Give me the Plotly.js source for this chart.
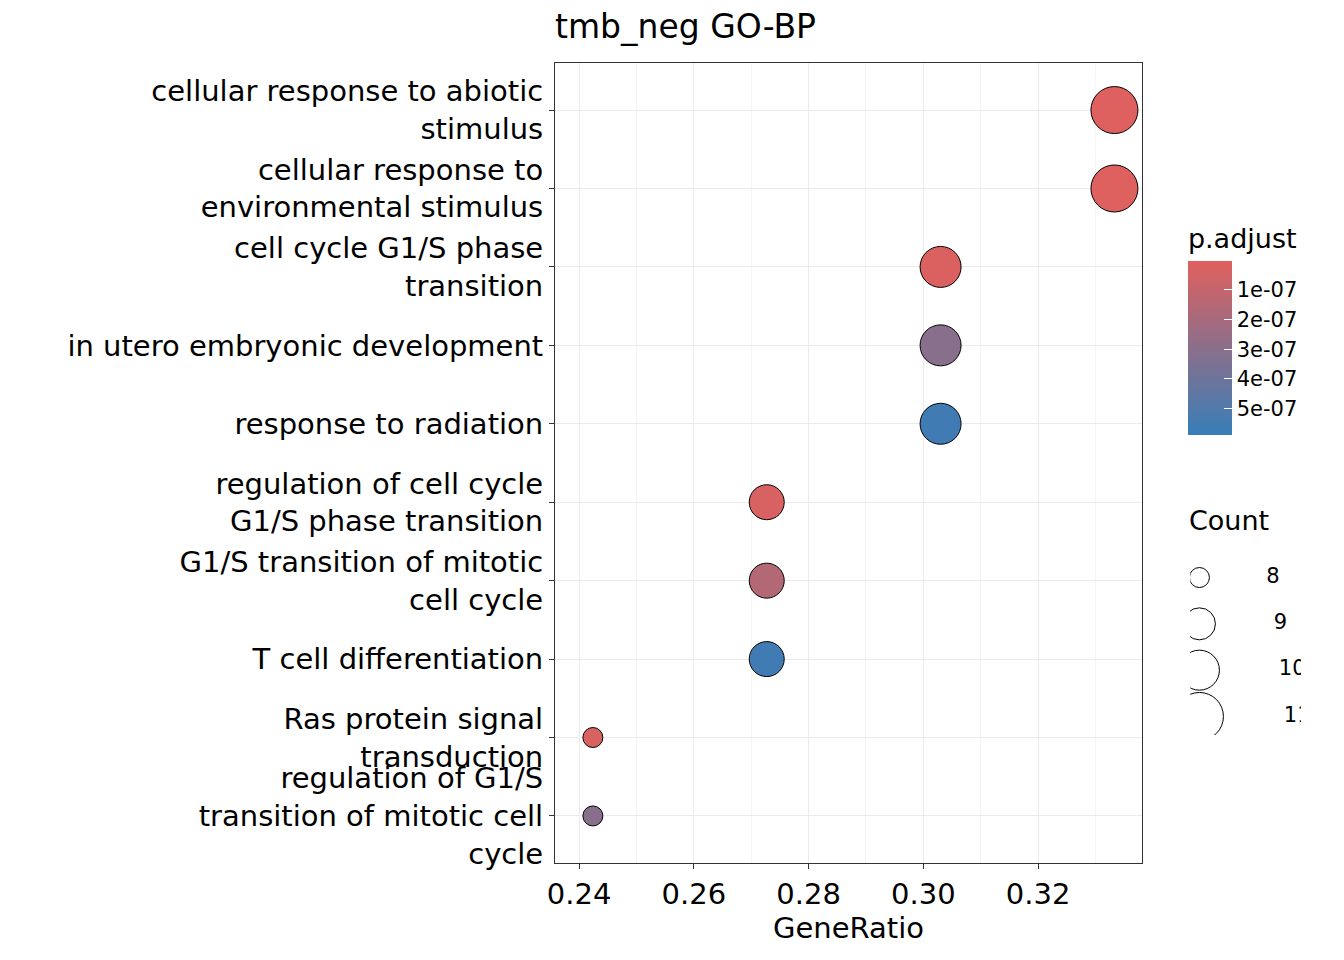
<!DOCTYPE html>
<html><head><meta charset="utf-8">
<script src="https://cdn.plot.ly/plotly-3.0.1.min.js"></script>
<style>body{margin:0}</style></head>
<body><div id="chart" style="width:1344px;height:960px"></div>
<script>
var terms = ['cellular response to abiotic<br>stimulus',
  'cellular response to<br>environmental stimulus',
  'cell cycle G1/S phase<br>transition',
  'in utero embryonic development',
  'response to radiation',
  'regulation of cell cycle<br>G1/S phase transition',
  'G1/S transition of mitotic<br>cell cycle',
  'T cell differentiation',
  'Ras protein signal<br>transduction',
  'regulation of G1/S<br>transition of mitotic cell<br>cycle'];
var geneRatio = [0.3333, 0.3333, 0.3030, 0.3030, 0.3030, 0.2727, 0.2727, 0.2727, 0.2424, 0.2424];
var counts = [11, 11, 10, 10, 10, 9, 9, 9, 8, 8];
var padjust = [1.0e-8, 1.0e-8, 2.0e-8, 3.1e-7, 5.6e-7, 3.0e-8, 1.6e-7, 5.6e-7, 3.0e-8, 3.1e-7];
var legendCounts = [8, 9, 10, 11];
var pTicks = [1e-7, 2e-7, 3e-7, 4e-7, 5e-7];

function dia(c) { return {8: 20, 9: 35, 10: 41, 11: 47}[c]; }
function legDia(c) { return {8: 20, 9: 32, 10: 40, 11: 48}[c]; }

// colour on negated p so that small values sit at the top of the colourbar
var scale = [[0, '#377EB8'], [1, '#E0605E']];

var dots = {
  type: 'scatter', mode: 'markers', x: geneRatio, y: terms, showlegend: false,
  marker: {size: counts.map(dia), sizemode: 'diameter', opacity: 1,
    color: padjust.map(function(p){return -p;}), colorscale: scale,
    cmin: -5.9e-7, cmax: -3e-9, line: {color: '#000', width: 1},
    colorbar: {x: 0.81, xanchor: 'left', y: 0.666, yanchor: 'middle', len: 0.2875,
      thickness: 44, outlinewidth: 0, tickvals: pTicks.map(function(p){return -p;}),
      ticktext: pTicks.map(function(p){return p.toExponential(0).replace('e-', 'e-0');}),
      ticks: 'inside', tickcolor: '#fff', ticklen: 8, tickfont: {size: 21},
      title: {text: 'p.adjust', side: 'top', font: {size: 27}}}}
};

var sizeLegend = {
  type: 'scatter', mode: 'markers+text', x: legendCounts.map(function(){return 0;}),
  y: legendCounts.map(String), xaxis: 'x2', yaxis: 'y2', showlegend: false, hoverinfo: 'skip',
  text: legendCounts.map(function(c){return '        ' + c;}), textposition: 'middle right',
  textfont: {size: 21},
  marker: {size: legendCounts.map(legDia), sizemode: 'diameter', color: '#fff', opacity: 1,
    line: {color: '#000', width: 1}}
};

var layout = {
  margin: {l: 555, r: 20, t: 63, b: 97},
  font: {family: 'DejaVu Sans', color: '#000'},
  plot_bgcolor: '#fff', paper_bgcolor: '#fff',
  title: {text: 'tmb_neg GO-BP', x: 0, xref: 'paper', xanchor: 'left', y: 0.985, yanchor: 'top',
    font: {size: 33}},
  xaxis: {domain: [0, 0.7633], range: [0.2358, 0.3381], tickvals: [0.24, 0.26, 0.28, 0.30, 0.32],
    tickformat: '.2f', tickfont: {size: 29}, gridcolor: '#EBEBEB', zeroline: false,
    showline: true, mirror: true, linecolor: '#333', ticks: 'outside', ticklen: 5, tickcolor: '#333',
    minor: {tickvals: [0.25, 0.27, 0.29, 0.31, 0.33], showgrid: true, gridcolor: '#F5F5F5', ticks: ''},
    title: {text: 'GeneRatio', font: {size: 29}, standoff: 6}},
  yaxis: {type: 'category', categoryarray: terms.slice().reverse(), range: [-0.6, 9.6],
    tickfont: {size: 29}, gridcolor: '#EBEBEB', zeroline: false, showline: true, mirror: true,
    linecolor: '#333', ticks: 'outside', ticklen: 5, tickcolor: '#333'},
  xaxis2: {domain: [0.826, 0.97], range: [-0.25, 2.75], visible: false, fixedrange: true},
  yaxis2: {domain: [0.16, 0.38], type: 'category', categoryarray: legendCounts.map(String).reverse(),
    range: [-0.4, 3.4], visible: false, anchor: 'x2'},
  annotations: [{text: 'Count', xref: 'paper', yref: 'paper', x: 0.822, y: 0.428,
    xanchor: 'left', yanchor: 'middle', showarrow: false, font: {size: 27}}]
};

Plotly.newPlot('chart', [dots, sizeLegend], layout, {displayModeBar: false});
</script></body></html>
